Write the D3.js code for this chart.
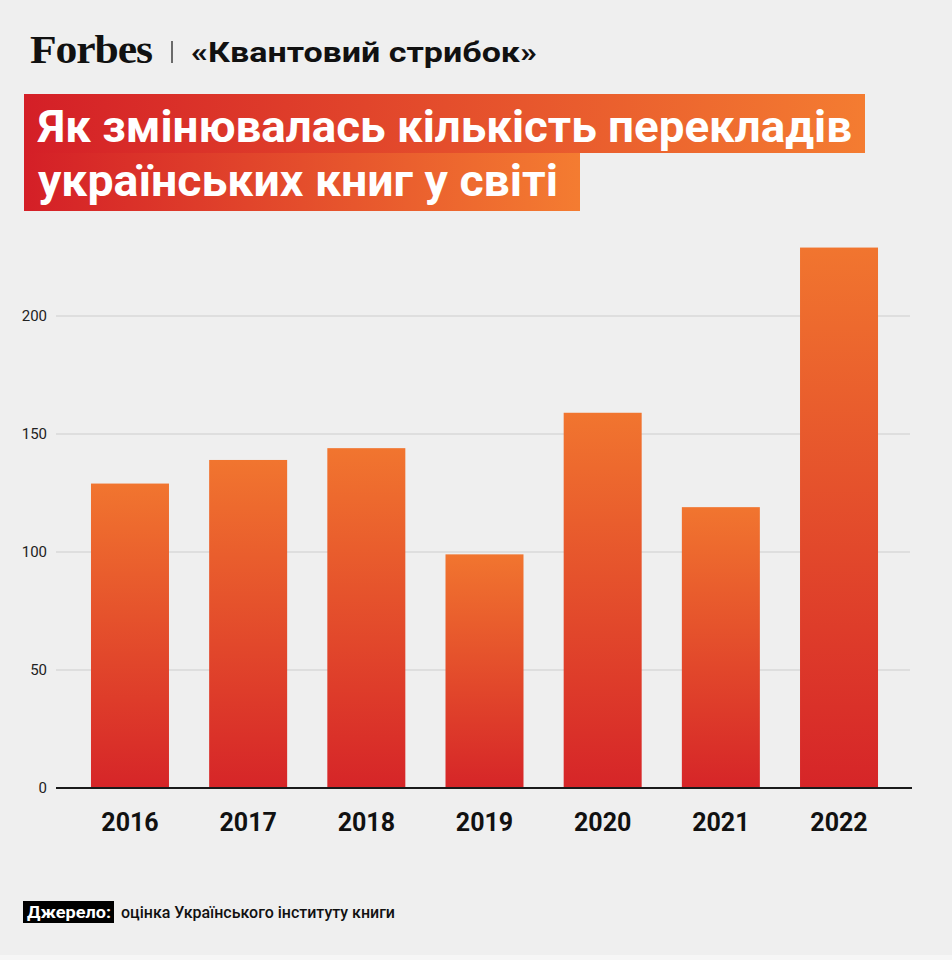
<!DOCTYPE html>
<meta charset="utf-8">
<script src="https://d3js.org/d3.v7.min.js"></script>
<style>
body { margin: 0; background: #efefef; }
text { font-family: Roboto, "Noto Sans", sans-serif; }
</style>
<div id="chart"></div>
<script>

// data
var years = ["2016", "2017", "2018", "2019", "2020", "2021", "2022"];
var translations = [129, 139, 144, 99, 159, 119, 229];
var yTicks = [0, 50, 100, 150, 200];
var titleLines = ["Як змінювалась кількість перекладів", "українських книг у світі"];

var width = 952, height = 960;
var margin = {top: 230, right: 42, bottom: 172, left: 56};

var svg = d3.select("#chart")
  .append("svg")
    .attr("width", width)
    .attr("height", height);

svg.append("rect").attr("width", width).attr("height", height).attr("fill", "#efefef");
svg.append("rect").attr("y", 955).attr("width", width).attr("height", 5).attr("fill", "#f6f6f6");

var defs = svg.append("defs");
var barGrad = defs.append("linearGradient")
  .attr("id", "barGrad").attr("x1", 0).attr("y1", 0).attr("x2", 0).attr("y2", 1);
barGrad.append("stop").attr("offset", "0%").attr("stop-color", "#f1752f");
barGrad.append("stop").attr("offset", "100%").attr("stop-color", "#d62528");

var titleGrad = defs.append("linearGradient")
  .attr("id", "titleGrad").attr("x1", 0).attr("y1", 0).attr("x2", 1).attr("y2", 0);
titleGrad.append("stop").attr("offset", "0%").attr("stop-color", "#d41f27");
titleGrad.append("stop").attr("offset", "100%").attr("stop-color", "#f47c31");

// header
svg.append("text")
  .attr("x", 30).attr("y", 63)
  .attr("textLength", 122).attr("lengthAdjust", "spacingAndGlyphs")
  .style("font-family", "'Liberation Serif', 'DejaVu Serif', serif")
  .style("font-weight", "bold").style("font-size", "40px").style("letter-spacing", "-1px")
  .attr("fill", "#111")
  .text("Forbes");
svg.append("line")
  .attr("x1", 172).attr("x2", 172).attr("y1", 41).attr("y2", 63)
  .attr("stroke", "#222").attr("stroke-width", 1.3);
svg.append("text")
  .attr("x", 191).attr("y", 62)
  .attr("textLength", 346).attr("lengthAdjust", "spacingAndGlyphs")
  .style("font-weight", "bold").style("font-size", "27px")
  .attr("fill", "#111")
  .text("«Квантовий стрибок»");

// title boxes
var boxes = [{x: 24, y: 94, w: 841, h: 59}, {x: 24, y: 153, w: 556, h: 58}];
var textW = [814, 520];
titleLines.forEach(function(t, i) {
  svg.append("rect")
    .attr("x", boxes[i].x).attr("y", boxes[i].y)
    .attr("width", boxes[i].w).attr("height", boxes[i].h)
    .attr("fill", "url(#titleGrad)");
  svg.append("text")
    .attr("x", 38).attr("y", i === 0 ? 142 : 196)
    .attr("textLength", textW[i]).attr("lengthAdjust", "spacingAndGlyphs")
    .style("font-weight", "bold").style("font-size", "44px")
    .attr("fill", "#fff")
    .text(t);
});

// scales
var x = d3.scaleBand()
  .domain(years)
  .range([margin.left, 913])
  .paddingInner(0.34)
  .paddingOuter(0.296);

var y = d3.scaleLinear()
  .domain([0, 200])
  .range([788, 316]);

// gridlines
svg.append("g")
  .selectAll("line")
  .data(yTicks.filter(function(d) { return d > 0; }))
  .enter().append("line")
    .attr("x1", margin.left).attr("x2", width - margin.right)
    .attr("y1", function(d) { return y(d); })
    .attr("y2", function(d) { return y(d); })
    .attr("stroke", "#d8d8d8").attr("stroke-width", 1.5);

// y tick labels
var yAxis = svg.append("g")
  .attr("transform", "translate(" + margin.left + ",0)")
  .call(d3.axisLeft(y).tickValues(yTicks).tickSize(0).tickPadding(9));
yAxis.select(".domain").remove();
yAxis.selectAll("text")
  .style("font-family", "Roboto, sans-serif")
  .style("font-size", "15px")
  .attr("fill", "#222");

// bars
svg.append("g")
  .selectAll("rect")
  .data(years)
  .enter().append("rect")
    .attr("x", function(d) { return x(d); })
    .attr("y", function(d, i) { return y(translations[i]); })
    .attr("width", x.bandwidth())
    .attr("height", function(d, i) { return y(0) - y(translations[i]); })
    .attr("fill", "url(#barGrad)");

// baseline
svg.append("line")
  .attr("x1", margin.left).attr("x2", width - margin.right + 2)
  .attr("y1", y(0)).attr("y2", y(0))
  .attr("stroke", "#1a1a1a").attr("stroke-width", 2);

// x labels
var xAxis = svg.append("g")
  .attr("transform", "translate(0," + y(0) + ")")
  .call(d3.axisBottom(x).tickSize(0).tickPadding(25));
xAxis.select(".domain").remove();
xAxis.selectAll("text")
  .style("font-family", "Roboto, sans-serif")
  .style("font-size", "25px")
  .style("font-weight", "bold")
  .attr("fill", "#111");

// source
svg.append("rect")
  .attr("x", 23).attr("y", 901).attr("width", 91).attr("height", 22)
  .attr("fill", "#000");
svg.append("text")
  .attr("x", 27).attr("y", 918)
  .attr("textLength", 84).attr("lengthAdjust", "spacingAndGlyphs")
  .style("font-weight", "bold").style("font-size", "16px")
  .attr("fill", "#fff")
  .text("Джерело:");
svg.append("text")
  .attr("x", 121).attr("y", 918)
  .attr("textLength", 274).attr("lengthAdjust", "spacingAndGlyphs")
  .style("font-weight", "500").style("font-size", "16px")
  .attr("fill", "#111")
  .text("оцінка Українського інституту книги");

</script>
